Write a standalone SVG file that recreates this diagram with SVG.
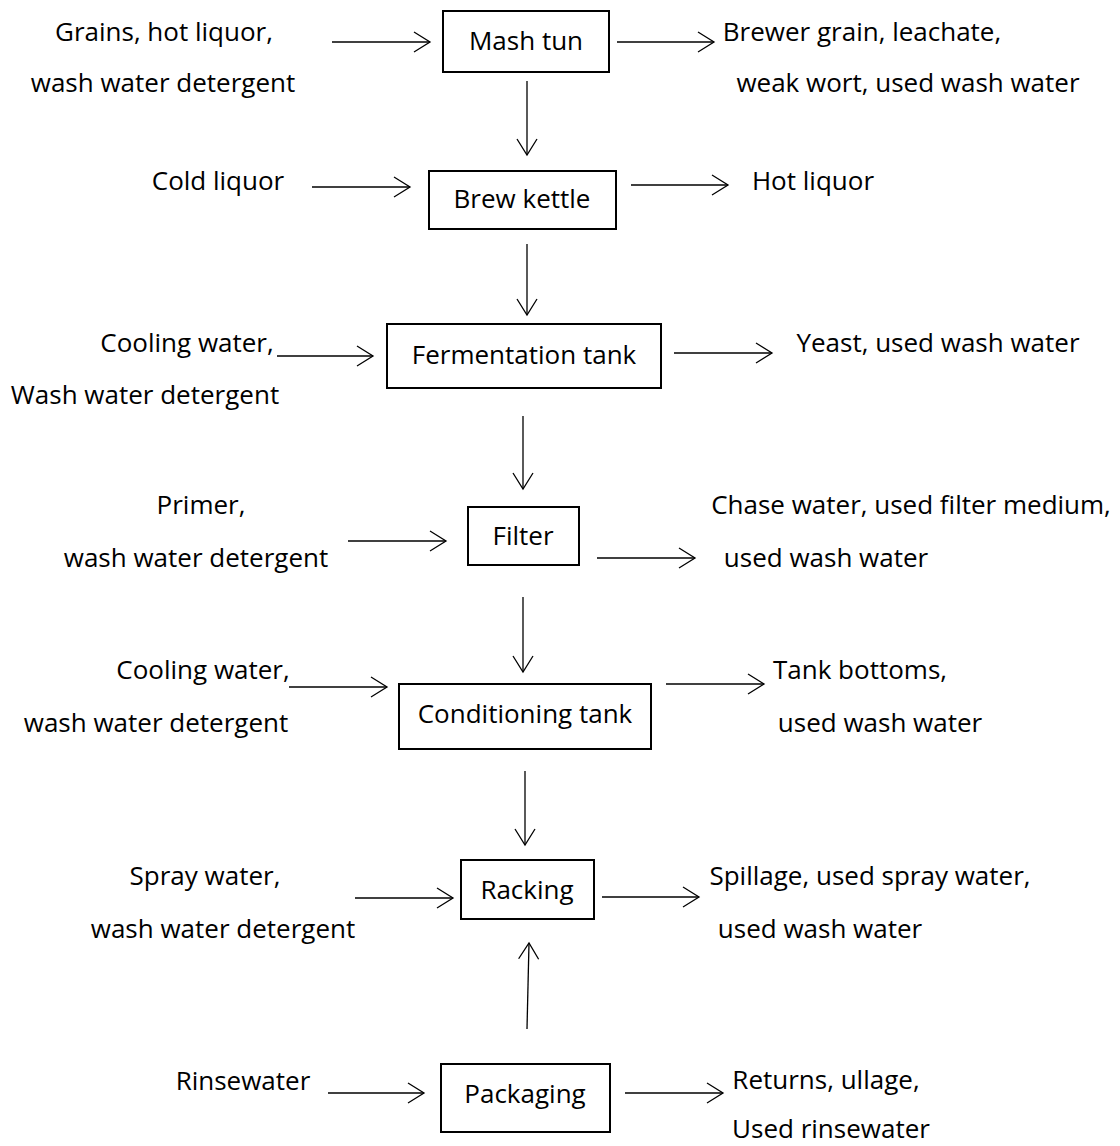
<svg xmlns="http://www.w3.org/2000/svg" width="1120" height="1146" viewBox="0 0 1120 1146">
<defs>
<marker id="ah" markerUnits="userSpaceOnUse" markerWidth="20" markerHeight="24" viewBox="-18 -12 20 24" refX="0" refY="0" orient="auto">
<path d="M-16,-10 L0,0 L-16,10" fill="none" stroke="#000" stroke-width="1.3"/>
</marker>
<style>
text{font-family:"Open Sans","Noto Sans","Liberation Sans",sans-serif;font-size:26px;fill:#000;text-anchor:middle}
rect{fill:#fff;stroke:#000;stroke-width:2}
.c line{stroke:#000;stroke-width:1.3;marker-end:url(#ah)}
</style>
</defs>
<rect x="0" y="0" width="1120" height="1146" style="stroke:none"/>
<g class="c" id="connectors">
<line x1="332" y1="42" x2="430" y2="42"/>
<line x1="617" y1="42" x2="714" y2="42"/>
<line x1="527" y1="81" x2="527" y2="155"/>
<line x1="312" y1="187" x2="410" y2="187"/>
<line x1="631" y1="185" x2="728" y2="185"/>
<line x1="527" y1="244" x2="527" y2="315"/>
<line x1="277" y1="356" x2="373" y2="356"/>
<line x1="674" y1="353" x2="772" y2="353"/>
<line x1="523" y1="416" x2="523" y2="489"/>
<line x1="348" y1="541" x2="446" y2="541"/>
<line x1="597" y1="558" x2="695" y2="558"/>
<line x1="523" y1="597" x2="523" y2="672"/>
<line x1="289" y1="687" x2="387" y2="687"/>
<line x1="666" y1="684" x2="764" y2="684"/>
<line x1="525" y1="771" x2="525" y2="845"/>
<line x1="355" y1="898" x2="453" y2="898"/>
<line x1="602" y1="897" x2="699" y2="897"/>
<line x1="527" y1="1029" x2="529" y2="943"/>
<line x1="328" y1="1093" x2="424" y2="1093"/>
<line x1="625" y1="1093" x2="723" y2="1093"/>
</g>
<g id="mash-tun"><rect x="443" y="11" width="166" height="61"/><text x="526" y="50">Mash tun</text></g>
<g id="brew-kettle"><rect x="429" y="171" width="187" height="58"/><text x="522" y="208">Brew kettle</text></g>
<g id="fermentation-tank"><rect x="387" y="324" width="274" height="64"/><text x="524" y="364">Fermentation tank</text></g>
<g id="filter"><rect x="468" y="507" width="111" height="58"/><text x="523" y="545">Filter</text></g>
<g id="conditioning-tank"><rect x="399" y="684" width="252" height="65"/><text x="525" y="723">Conditioning tank</text></g>
<g id="racking"><rect x="461" y="860" width="133" height="59"/><text x="527" y="899">Racking</text></g>
<g id="packaging"><rect x="441" y="1064" width="169" height="68"/><text x="525" y="1103">Packaging</text></g>
<g id="labels">
<text x="164" y="41">Grains, hot liquor,</text>
<text x="163" y="92">wash water detergent</text>
<text x="862" y="41">Brewer grain, leachate,</text>
<text x="908" y="92">weak wort, used wash water</text>
<text x="218" y="190">Cold liquor</text>
<text x="813" y="190">Hot liquor</text>
<text x="187" y="352">Cooling water,</text>
<text x="145" y="404">Wash water detergent</text>
<text x="938" y="352">Yeast, used wash water</text>
<text x="201" y="514">Primer,</text>
<text x="196" y="567">wash water detergent</text>
<text x="911" y="514">Chase water, used filter medium,</text>
<text x="826" y="567">used wash water</text>
<text x="203" y="679">Cooling water,</text>
<text x="156" y="732">wash water detergent</text>
<text x="860" y="679">Tank bottoms,</text>
<text x="880" y="732">used wash water</text>
<text x="205" y="885">Spray water,</text>
<text x="223" y="938">wash water detergent</text>
<text x="870" y="885">Spillage, used spray water,</text>
<text x="820" y="938">used wash water</text>
<text x="243" y="1090">Rinsewater</text>
<text x="826" y="1089">Returns, ullage,</text>
<text x="831" y="1138">Used rinsewater</text>
</g>
</svg>
